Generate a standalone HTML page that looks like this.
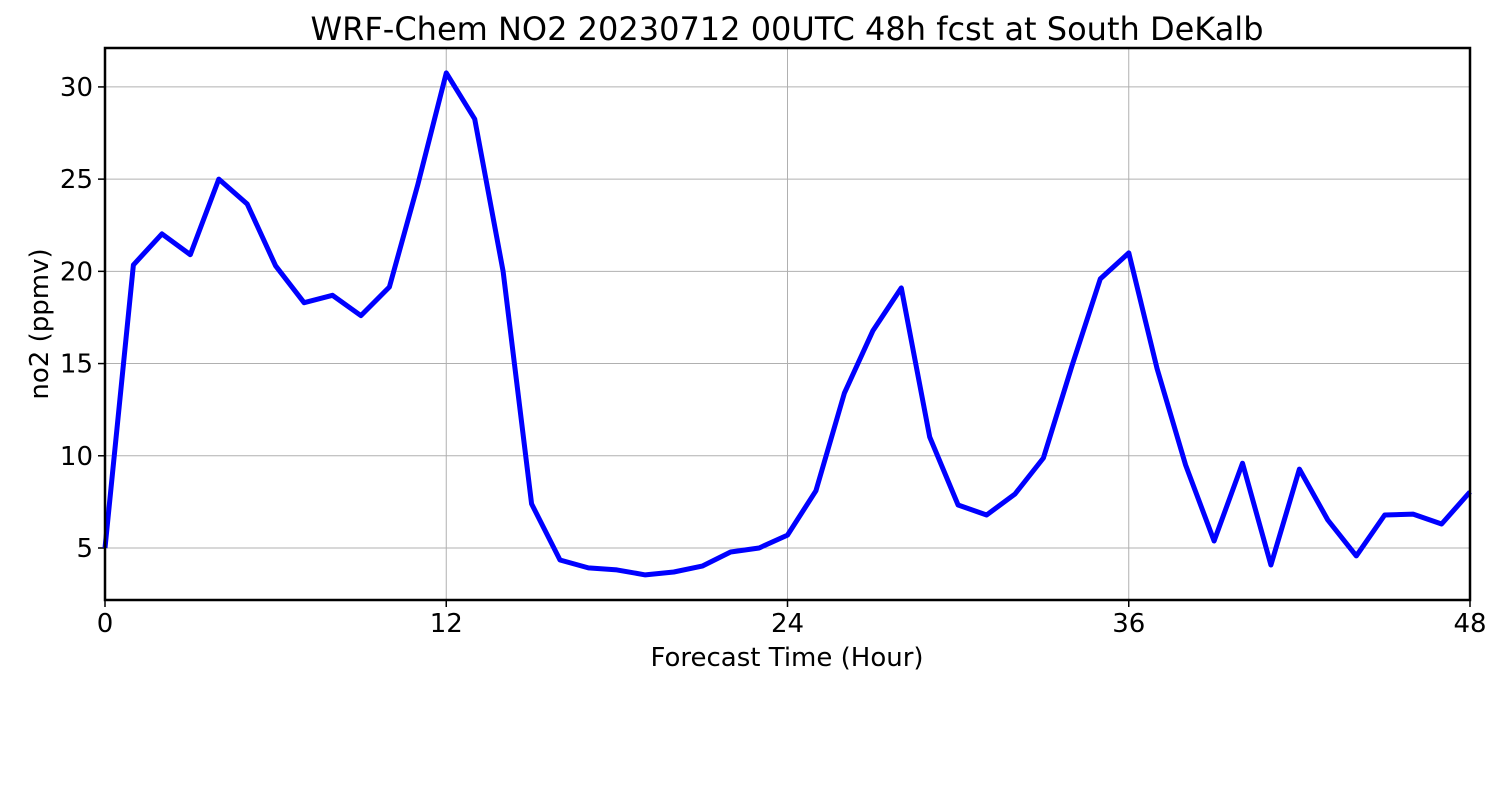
<!DOCTYPE html>
<html><head><meta charset="utf-8">
<style>
html,body{margin:0;padding:0;background:#fff;}
svg{display:block;font-family:"DejaVu Sans","Liberation Sans",sans-serif;}
</style></head>
<body>
<svg id="chart" width="1500" height="800" viewBox="0 0 1500 800">
<text x="787" y="40" text-anchor="middle" font-size="32" fill="#000">WRF-Chem NO2  20230712 00UTC 48h fcst at South DeKalb</text>
<g id="grid"></g>
<g id="xticks"></g>
<g id="yticks"></g>
<path id="line" fill="none" stroke="#0000ff" stroke-width="5" stroke-linejoin="round"></path>
<rect x="105" y="48" width="1365" height="552" fill="none" stroke="#000" stroke-width="2.5"></rect>
<text x="787" y="666" text-anchor="middle" font-size="26" fill="#000">Forecast Time (Hour)</text>
<text transform="translate(48,324) rotate(-90)" text-anchor="middle" font-size="26" fill="#000">no2  (ppmv)</text>
</svg>
<script>
const hours = [0,1,2,3,4,5,6,7,8,9,10,11,12,13,14,15,16,17,18,19,20,21,22,23,24,25,26,27,28,29,30,31,32,33,34,35,36,37,38,39,40,41,42,43,44,45,46,47,48];
const no2Values = [5.0,20.35,22.03,20.9,25.0,23.65,20.3,18.3,18.7,17.6,19.15,24.7,30.76,28.26,20.0,7.39,4.35,3.92,3.81,3.54,3.7,4.02,4.78,5.0,5.7,8.1,13.4,16.77,19.1,11.02,7.33,6.79,7.93,9.88,14.87,19.59,21.0,14.7,9.5,5.38,9.6,4.08,9.28,6.52,4.57,6.79,6.84,6.3,8.04];
const xTickValues = [0,12,24,36,48];
const yTickValues = [5,10,15,20,25,30];

const X0=105,X1=1470,Y0=600,Y1=48;
const xMin=0,xMax=48,yMin=2.18,yMax=32.11;
function xScale(v){return X0+(v-xMin)/(xMax-xMin)*(X1-X0);}
function yScale(v){return Y0-(v-yMin)/(yMax-yMin)*(Y0-Y1);}
const NS="http://www.w3.org/2000/svg";
const grid=document.getElementById('grid'),xt=document.getElementById('xticks'),yt=document.getElementById('yticks');
function mk(tag,attrs){const e=document.createElementNS(NS,tag);for(const k in attrs)e.setAttribute(k,attrs[k]);return e;}
xTickValues.forEach(v=>{
  const x=xScale(v);
  const g=mk('line',{x1:x,x2:x,y1:Y1,y2:Y0,stroke:'#b0b0b0','stroke-width':1});
  
  
  grid.appendChild(g);
  const t=mk('line',{x1:x,x2:x,y1:Y0,y2:Y0+7,stroke:'#000','stroke-width':1.5});
  
  
  xt.appendChild(t);
  const l=mk('text',{x:x,y:632,'text-anchor':'middle','font-size':26});
  l.textContent=v;
  
  
  xt.appendChild(l);
});
yTickValues.forEach(v=>{
  const y=yScale(v);
  const g=mk('line',{x1:X0,x2:X1,y1:y,y2:y,stroke:'#b0b0b0','stroke-width':1});
  
  
  grid.appendChild(g);
  const t=mk('line',{x1:X0-7,x2:X0,y1:y,y2:y,stroke:'#000','stroke-width':1.5});
  
  
  yt.appendChild(t);
  const l=mk('text',{x:X0-12,y:y+9,'text-anchor':'end','font-size':26});
  l.textContent=v;
  
  
  yt.appendChild(l);
});
document.getElementById('line').setAttribute('d',hours.map((h,i)=>(i?'L':'M')+xScale(h).toFixed(1)+','+yScale(no2Values[i]).toFixed(1)).join(' '));
</script>
</body></html>
